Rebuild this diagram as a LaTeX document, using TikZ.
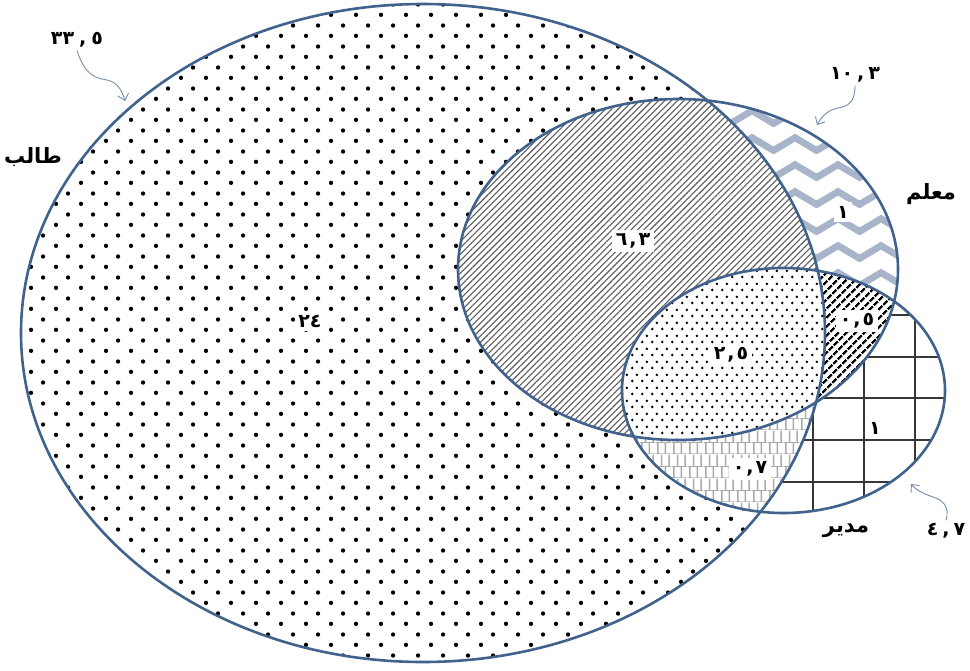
\documentclass[tikz,border=0pt]{standalone}
\usepackage{fontspec}
\TeXXeTstate=1
\newfontfamily\arabicfont[Script=Arabic]{DejaVu Sans}
\usetikzlibrary{patterns,patterns.meta,arrows.meta}

\definecolor{edge}{RGB}{65,98,140}
\definecolor{zig}{RGB}{168,180,202}
\definecolor{arrowc}{RGB}{120,140,170}
\definecolor{hatchc}{RGB}{90,90,90}
\definecolor{brickc}{RGB}{170,170,170}
\definecolor{gridc}{RGB}{55,55,55}

\pgfdeclarepatternformonly{bigdots}{\pgfqpoint{0pt}{0pt}}{\pgfqpoint{25pt}{20.8pt}}{\pgfqpoint{25pt}{20.8pt}}{%
  \pgfpathcircle{\pgfqpoint{6.25pt}{5.2pt}}{2.2pt}%
  \pgfpathcircle{\pgfqpoint{18.75pt}{15.6pt}}{2.2pt}%
  \pgfusepath{fill}}
\pgfdeclarepatternformonly{finedots}{\pgfqpoint{0pt}{0pt}}{\pgfqpoint{10pt}{13pt}}{\pgfqpoint{10pt}{13pt}}{%
  \pgfpathcircle{\pgfqpoint{2.5pt}{3.25pt}}{1.55pt}%
  \pgfpathcircle{\pgfqpoint{7.5pt}{9.75pt}}{1.55pt}%
  \pgfusepath{fill}}
\pgfdeclarepatternformonly{zigzag}{\pgfqpoint{0pt}{0pt}}{\pgfqpoint{43pt}{27pt}}{\pgfqpoint{43pt}{27pt}}{%
  \pgfsetlinewidth{7pt}\pgfsetmiterjoin
  \pgfpathmoveto{\pgfqpoint{-21.5pt}{20pt}}%
  \pgfpathlineto{\pgfqpoint{0pt}{7pt}}%
  \pgfpathlineto{\pgfqpoint{21.5pt}{20pt}}%
  \pgfpathlineto{\pgfqpoint{43pt}{7pt}}%
  \pgfpathlineto{\pgfqpoint{64.5pt}{20pt}}%
  \pgfusepath{stroke}}
\pgfdeclarepatternformonly{bricksv}{\pgfqpoint{0pt}{0pt}}{\pgfqpoint{16pt}{24pt}}{\pgfqpoint{16pt}{24pt}}{%
  \pgfsetlinewidth{1.6pt}%
  \pgfpathmoveto{\pgfqpoint{2pt}{0pt}}\pgfpathlineto{\pgfqpoint{2pt}{12pt}}%
  \pgfpathmoveto{\pgfqpoint{10pt}{0pt}}\pgfpathlineto{\pgfqpoint{10pt}{12pt}}%
  \pgfpathmoveto{\pgfqpoint{6pt}{12pt}}\pgfpathlineto{\pgfqpoint{6pt}{24pt}}%
  \pgfpathmoveto{\pgfqpoint{14pt}{12pt}}\pgfpathlineto{\pgfqpoint{14pt}{24pt}}%
  \pgfusepath{stroke}%
  \pgfsetlinewidth{0.7pt}%
  \pgfpathmoveto{\pgfqpoint{0pt}{12pt}}\pgfpathlineto{\pgfqpoint{16pt}{12pt}}%
  \pgfpathmoveto{\pgfqpoint{0pt}{0.35pt}}\pgfpathlineto{\pgfqpoint{16pt}{0.35pt}}%
  \pgfusepath{stroke}}

\newcommand\pathS{(423,333) ellipse [x radius=402, y radius=329]}
\newcommand\pathT{(678,269.5) ellipse [x radius=220, y radius=170.5]}
\newcommand\pathM{(783.5,390.5) ellipse [x radius=161.5, y radius=122.5]}

\tikzset{
  outline/.style={draw=edge, line width=2.6pt},
  word/.style={font=\arabicfont\bfseries\fontsize{21}{25}\selectfont, inner sep=0pt},
  num/.style={font=\arabicfont\bfseries\fontsize{19}{22}\selectfont, inner sep=0pt},
  numbox/.style={font=\arabicfont\bfseries\fontsize{19}{22}\selectfont, fill=white, inner sep=3.5pt},
  callout/.style={draw=arrowc, line width=0.9pt, -{Straight Barb[length=6pt,width=11pt]}},
}

\begin{document}
\begin{tikzpicture}[x=1pt, y=-1pt]
\useasboundingbox (0,0) rectangle (970,670);
\fill[white] (0,0) rectangle (970,670);

% student
\fill[pattern=bigdots, pattern color=black] \pathS;
% teacher
\fill[white] \pathT;
\fill[pattern=zigzag, pattern color=zig] \pathT;
% teacher & student
\begin{scope}
  \clip \pathT; \clip \pathS;
  \fill[white] \pathT;
  \fill[pattern={Lines[angle=45, distance=4.5pt, line width=1.1pt]}, pattern color=hatchc] \pathT;
\end{scope}
% manager
\begin{scope}
  \clip \pathM;
  \fill[white] \pathM;
  \foreach \gx in {711,762,813,864,915} \draw[gridc, line width=2.2pt] (\gx,260) -- (\gx,520);
  \foreach \gy in {273.5,315,357,398,440,482} \draw[gridc, line width=2.2pt] (615,\gy) -- (950,\gy);
\end{scope}
% manager & student
\begin{scope}
  \clip \pathM; \clip \pathS;
  \fill[white] \pathM;
  \fill[pattern=bricksv, pattern color=brickc] \pathM;
\end{scope}
% manager & teacher
\begin{scope}
  \clip \pathM; \clip \pathT;
  \fill[white] \pathM;
  \fill[pattern={Lines[angle=45, distance=6.5pt, line width=2.6pt]}, pattern color=black] \pathM;
\end{scope}
% all three
\begin{scope}
  \clip \pathM; \clip \pathT; \clip \pathS;
  \fill[white] \pathM;
  \fill[pattern=finedots, pattern color=black] \pathM;
\end{scope}

% outlines
\draw[outline] \pathS;
\draw[outline] \pathT;
\draw[outline] \pathM;

% set names
\node[word] (wS) at (33,157) {\beginR طالب\endR};
\node[word] (wT) at (931,194) {\beginR معلم\endR};
\node[word] (wM) at (846,531) {\beginR مدير\endR};

% totals
\node[num] (nS) at (77,40) {٣٣\hspace{5pt},\hspace{5pt}٥};
\node[num] (nT) at (855,75) {١٠\hspace{4pt},\hspace{4pt}٣};
\node[num] (nM) at (946,531) {٤\hspace{4pt},\hspace{4pt}٧};

% region values
\node[numbox] (r1) at (310,321) {٢٤};
\node[numbox] (r2) at (633,241) {٦\hspace{2pt},\hspace{2pt}٣};
\node[numbox] (r3) at (843,212) {١};
\node[numbox] (r4) at (857,321) {٠\hspace{2pt},\hspace{2pt}٥};
\node[numbox] (r5) at (731,355) {٢\hspace{2pt},\hspace{2pt}٥};
\node[numbox] (r6) at (875,428) {١};
\node[numbox] (r7) at (750,469) {٠\hspace{2pt},\hspace{2pt}٧};

% callouts
\coordinate (eS) at (125,101);
\coordinate (eT) at (817,125);
\coordinate (eM) at (911,484);
\draw[callout] ([yshift=-3pt]nS.south) .. controls (85,75) and (95,78) .. (107,80) .. controls (117,82) and (122,90) .. (eS);
\draw[callout] ([yshift=-3pt]nT.south) .. controls (855,103) and (848,106) .. (838,108) .. controls (828,110) and (822,116) .. (eT);
\draw[callout] ([yshift=3pt]nM.north) .. controls (950,507) and (943,500) .. (933,497) .. controls (924,494) and (916,490) .. (eM);
\end{tikzpicture}
\end{document}
